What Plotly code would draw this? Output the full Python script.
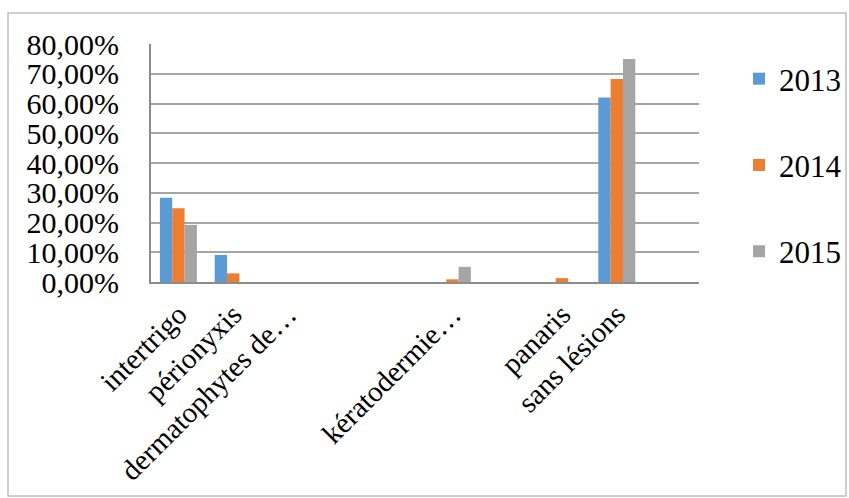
import plotly.graph_objects as go

categories = ["intertrigo", "périonyxis", "dermatophytes de…", "", "", "kératodermie…", "", "panaris", "sans lésions", ""]
series_names = ["2013", "2014", "2015"]
v2013 = [0.283, 0.091, 0.0, 0.0, 0.0, 0.0, 0.0, 0.0, 0.620, 0.0]
v2014 = [0.248, 0.029, 0.0, 0.0, 0.0, 0.009, 0.0, 0.013, 0.682, 0.0]
v2015 = [0.192, 0.0, 0.0, 0.0, 0.0, 0.051, 0.0, 0.0, 0.750, 0.0]
colors = ["#5B9BD5", "#ED7D31", "#A5A5A5"]
y_ticks = [0, 0.1, 0.2, 0.3, 0.4, 0.5, 0.6, 0.7, 0.8]

FONT = "Liberation Serif, Times New Roman, serif"
xs = list(range(len(categories)))

fig = go.Figure()
for i, (name, vals) in enumerate(zip(series_names, [v2013, v2014, v2015])):
    fig.add_trace(go.Bar(x=xs, y=vals, name=name, marker_color=colors[i],
                         marker_line_width=0, legendgroup=name))

W, H = 849, 498
L, R, T, B = 151, 150, 44, 216
pw, ph = W - L - R, H - T - B

def px(x):
    return (x - L) / pw

def py(y):
    return (H - B - y) / ph

fig.update_layout(
    width=W, height=H,
    margin=dict(l=L, r=R, t=T, b=B, autoexpand=False),
    paper_bgcolor="white", plot_bgcolor="white",
    separators=", ",
    barmode="group", bargap=0.325, bargroupgap=0,
    font=dict(family=FONT, size=30, color="black"),
    showlegend=True,
    legend=dict(x=px(739), y=py(52), xanchor="left", yanchor="top",
                font=dict(family=FONT, size=31, color="black"),
                tracegroupgap=43, bgcolor="rgba(0,0,0,0)", maxheight=450),
    xaxis=dict(range=[-0.5, len(categories) - 0.5], tickvals=xs, ticktext=categories,
               tickangle=-45, showgrid=False, zeroline=False, automargin=False,
               showline=True, linecolor="#8c8c8c", linewidth=2,
               ticks="", ticklabelstandoff=2,
               tickfont=dict(family=FONT, size=29, color="black")),
    yaxis=dict(range=[0, 0.8], tickvals=y_ticks, tickformat=".2%",
               showgrid=True, gridcolor="#a6a6a6", gridwidth=1.5, automargin=False,
               zeroline=False, showline=True, linecolor="#8c8c8c", linewidth=2,
               ticks="", ticklabelstandoff=24,
               tickfont=dict(family=FONT, size=30, color="black")),
    shapes=[dict(type="rect", xref="paper", yref="paper",
                 x0=px(8), x1=px(846), y0=py(496), y1=py(13),
                 line=dict(color="#bfbfbf", width=1.5), fillcolor="rgba(0,0,0,0)")],
)

fig.write_html("out.html")
